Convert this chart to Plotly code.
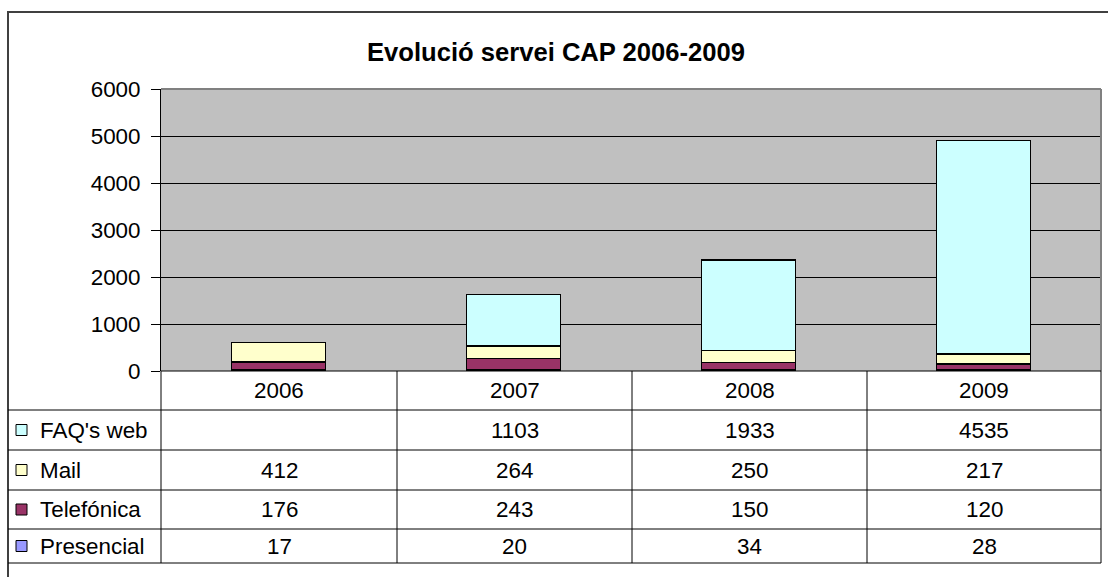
import plotly.graph_objects as go

years = ["2006", "2007", "2008", "2009"]
series_names = ["Presencial", "Telefónica", "Mail", "FAQ's web"]
presencial = [17, 20, 34, 28]
telefonica = [176, 243, 150, 120]
mail = [412, 264, 250, 217]
faq_web = [None, 1103, 1933, 4535]
colors = ["#9999FF", "#993366", "#FFFFCC", "#CCFFFF"]
y_ticks = [0, 1000, 2000, 3000, 4000, 5000, 6000]
title_text = "Evolució servei CAP 2006-2009"

W, H = 1108, 577
FONT = "Liberation Sans, Arial, sans-serif"
FS = 22.4
TITLE_FS = 25.6

def px(x):
    return x / W

def py(y):
    return 1 - y / H

# layout geometry (pixels)
plot_l, plot_r = 161, 1101
plot_t, plot_b = 89, 371
tab_left = 8
row_lines = [410, 450, 490, 529, 563]
col_edges = [161, 397, 632, 867, 1101]

series_values = [presencial, telefonica, mail, faq_web]

fig = go.Figure()
for name, vals, col in zip(series_names, series_values, colors):
    fig.add_trace(go.Bar(
        x=years, y=vals, name=name,
        marker=dict(color=col, line=dict(color="black", width=1.5)),
        width=0.4, showlegend=False, hoverinfo="x+y+name",
    ))

shapes = []
# outer chart border
shapes.append(dict(type="rect", xref="paper", yref="paper",
                   x0=px(8), x1=px(W + 20), y0=py(12), y1=py(H + 20),
                   line=dict(color="#404040", width=2), layer="above"))
# plot area top and right border (gray)
shapes.append(dict(type="line", xref="paper", yref="paper",
                   x0=px(plot_l), x1=px(plot_r), y0=py(plot_t), y1=py(plot_t),
                   line=dict(color="#808080", width=2), layer="above"))
shapes.append(dict(type="line", xref="paper", yref="paper",
                   x0=px(plot_r), x1=px(plot_r), y0=py(plot_t), y1=py(plot_b),
                   line=dict(color="#808080", width=2), layer="above"))
# table horizontal lines
shapes.append(dict(type="line", xref="paper", yref="paper",
                   x0=px(plot_l), x1=px(plot_r), y0=py(plot_b), y1=py(plot_b),
                   line=dict(color="black", width=1), layer="above"))
for yl in row_lines:
    shapes.append(dict(type="line", xref="paper", yref="paper",
                       x0=px(tab_left), x1=px(plot_r), y0=py(yl), y1=py(yl),
                       line=dict(color="black", width=1), layer="above"))
# table vertical lines
for xc in col_edges:
    shapes.append(dict(type="line", xref="paper", yref="paper",
                       x0=px(xc), x1=px(xc), y0=py(plot_b), y1=py(row_lines[-1]),
                       line=dict(color="black", width=1), layer="above"))

annotations = []
annotations.append(dict(text="<b>" + title_text + "</b>", xref="paper", yref="paper",
                        x=px(556), y=py(52), showarrow=False,
                        font=dict(family=FONT, size=TITLE_FS, color="black"),
                        xanchor="center", yanchor="middle"))
header_c = (plot_b + row_lines[0]) / 2
for i, yr in enumerate(years):
    cx = (col_edges[i] + col_edges[i + 1]) / 2
    annotations.append(dict(text=yr, xref="paper", yref="paper", x=px(cx), y=py(header_c),
                            showarrow=False, font=dict(family=FONT, size=FS, color="black"),
                            xanchor="center", yanchor="middle"))

# table rows: top-down order FAQ, Mail, Telefónica, Presencial
order = [3, 2, 1, 0]
for r, si in enumerate(order):
    top = row_lines[r]
    bot = row_lines[r + 1]
    cy = (top + bot) / 2
    shapes.append(dict(type="rect", xref="paper", yref="paper",
                       x0=px(16), x1=px(27), y0=py(cy - 5.5), y1=py(cy + 5.5),
                       fillcolor=colors[si], line=dict(color="black", width=1), layer="above"))
    annotations.append(dict(text=series_names[si], xref="paper", yref="paper",
                            x=px(38), y=py(cy), showarrow=False,
                            font=dict(family=FONT, size=FS, color="black"),
                            xanchor="left", yanchor="middle"))
    for i, v in enumerate(series_values[si]):
        if v is None:
            continue
        cx = (col_edges[i] + col_edges[i + 1]) / 2
        annotations.append(dict(text=str(v), xref="paper", yref="paper", x=px(cx), y=py(cy),
                                showarrow=False, font=dict(family=FONT, size=FS, color="black"),
                                xanchor="center", yanchor="middle"))

fig.update_layout(
    width=W, height=H,
    autosize=False,
    margin=dict(l=0, r=0, t=0, b=0, pad=0, autoexpand=False),
    barmode="stack",
    paper_bgcolor="white",
    plot_bgcolor="#C0C0C0",
    font=dict(family=FONT, size=FS, color="black"),
    shapes=shapes,
    annotations=annotations,
    xaxis=dict(domain=[px(plot_l), px(plot_r)], range=[-0.5, 3.5],
               showticklabels=False, ticks="", showgrid=False, zeroline=False,
               showline=False, fixedrange=True, automargin=False),
    yaxis=dict(domain=[py(plot_b), py(plot_t)], range=[0, 6000],
               tickvals=y_ticks, ticks="outside", ticklen=9, tickcolor="black",
               ticklabelstandoff=6,
               showgrid=True, gridcolor="black", gridwidth=1,
               showline=True, linecolor="black", linewidth=1, zeroline=False,
               tickfont=dict(family=FONT, size=FS, color="black"), fixedrange=True,
               automargin=False),
)

post = ("document.body.style.margin='0';document.body.style.padding='0';"
        "document.body.style.overflow='hidden';"
        "document.documentElement.style.overflow='hidden';")
fig.write_html("out.html", config={"responsive": False, "displayModeBar": False},
               post_script=post)
